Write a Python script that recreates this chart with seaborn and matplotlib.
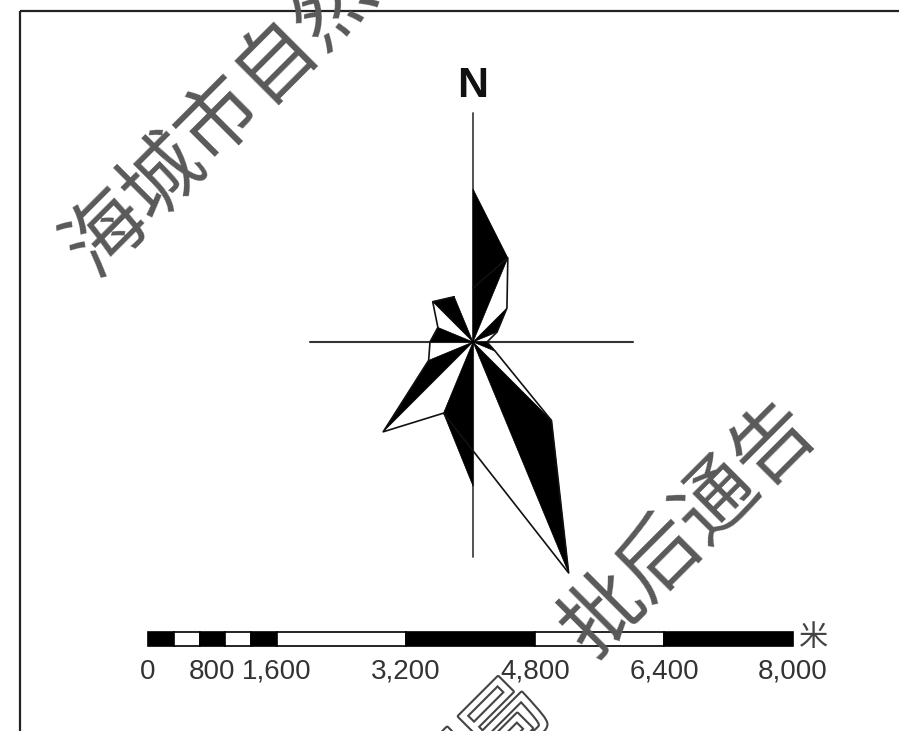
import numpy as np
import pandas as pd
import matplotlib
matplotlib.use("Agg")
import matplotlib.pyplot as plt
import matplotlib.patheffects as pe
from matplotlib.patches import Rectangle
import seaborn as sns

# wind frequency by direction (%)
directions = ["N", "NNE", "NE", "ENE", "E", "ESE", "SE", "SSE",
              "S", "SSW", "SW", "WSW", "W", "WNW", "NW", "NNW"]
freq = [15.3, 9.1, 4.8, 2.6, 1.4, 2.4, 11.1, 25.0,
        14.4, 7.7, 12.7, 4.8, 4.3, 3.8, 5.7, 4.9]

# scale bar
bar_edges = [0, 320, 640, 960, 1280, 1600, 3200, 4800, 6400, 8000]
bar_ticks = [0, 800, 1600, 3200, 4800, 6400, 8000]
bar_unit = "米"

# watermark text
wm_top = "海城市自然资源局"
wm_right = "批后通告"
wm_bottom = "资源局"

# layout (pixel units)
W, H = 899, 731
cx, cy = 473, 342
px_per_pct = 10.0
bar_x0, bar_x1 = 148, 793
bar_y, bar_h = 632, 14

sns.set_theme(style="white")
plt.rcParams['font.family'] = ['Liberation Sans', 'DejaVu Sans']

fig = plt.figure(figsize=(W / 100, H / 100), dpi=100)
ax = fig.add_axes([0, 0, 1, 1])

# frame
ax.plot([20, W], [11, 11], color='#222', lw=1.6, solid_capstyle='butt')
ax.plot([20, 20], [11, H], color='#222', lw=1.6, solid_capstyle='butt')

# rose geometry
ang = np.deg2rad(np.arange(16) * 22.5)
r = np.array(freq) * px_per_pct
tip_x = cx + r * np.sin(ang)
tip_y = cy - r * np.cos(ang)

# cross lines
ax.plot([310, 633], [cy, cy], color='#333', lw=1.5, zorder=1)
ax.plot([cx, cx], [113, 557], color='#444', lw=1.3, zorder=1)

# alternate black wedges
for i in range(0, 16, 2):
    j = (i + 1) % 16
    ax.fill([cx, tip_x[i], tip_x[j]], [cy, tip_y[i], tip_y[j]],
            color='black', lw=0.5, zorder=2)

outline = pd.DataFrame({"x": np.append(tip_x, tip_x[0]),
                        "y": np.append(tip_y, tip_y[0])})
sns.lineplot(data=outline, x="x", y="y", sort=False, color='#111',
             lw=1.2, ax=ax, zorder=3)
ax.set_xlim(0, W)
ax.set_ylim(H, 0)
ax.axis('off')

ax.text(cx, 86, "N", ha='center', va='center', fontsize=31,
        fontweight='bold', color='#111')

# scale bar
sc = (bar_x1 - bar_x0) / bar_edges[-1]
for k in range(len(bar_edges) - 1):
    x0 = bar_x0 + bar_edges[k] * sc
    w = (bar_edges[k + 1] - bar_edges[k]) * sc
    ax.add_patch(Rectangle((x0, bar_y), w, bar_h,
                           facecolor='black' if k % 2 == 0 else 'white',
                           edgecolor='black', lw=1.2, zorder=4))
for t in bar_ticks:
    ax.text(bar_x0 + t * sc, 672, f"{t:,}", ha='center', va='center',
            fontsize=20, color='#333', zorder=5)
ax.text(813, 638, bar_unit, ha='center', va='center', fontsize=21,
        family=['Noto Sans CJK SC', 'DejaVu Sans'], color='#444', zorder=5)

# watermarks
wm = dict(rotation=45, rotation_mode='anchor', ha='center', va='center',
          fontsize=58, family=['Noto Sans CJK SC', 'DejaVu Sans'], zorder=6)
ax.text(306, 34, wm_top, color='#595959', **wm)
ax.text(690, 530, wm_right, color='#595959', **wm)
ax.text(450, 782, wm_bottom, color='white',
        path_effects=[pe.withStroke(linewidth=3, foreground='#444')], **wm)

fig.savefig("out.png", dpi=100)
